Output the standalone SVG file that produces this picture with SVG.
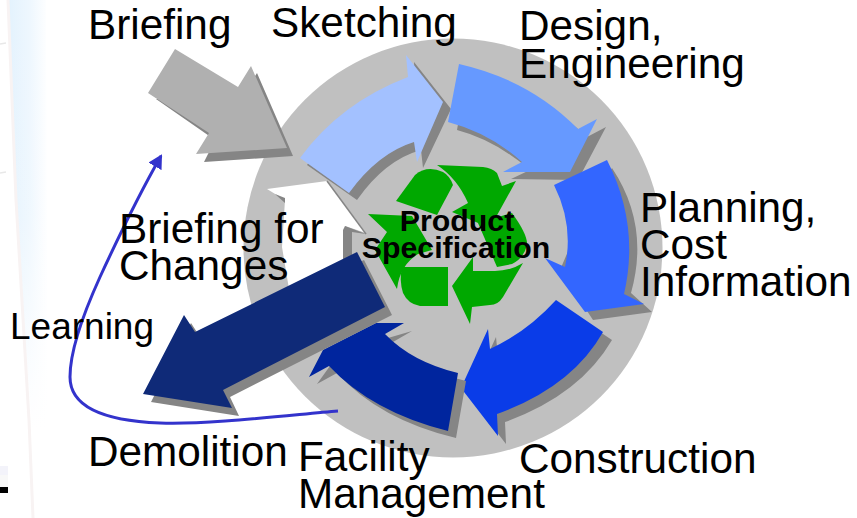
<svg xmlns="http://www.w3.org/2000/svg" width="857" height="518" viewBox="0 0 857 518">
<style>
.t{font-family:"Liberation Sans",Arial,sans-serif;font-size:42.3px;fill:#000}
.s{fill:#858585}
.g{fill:#00a800}
.b{font-family:"Liberation Sans",Arial,sans-serif;font-size:30.3px;font-weight:bold;fill:#000;text-anchor:middle}
</style>
<defs>
<linearGradient id="bg" x1="0" x2="1" y1="0" y2="0"><stop offset="0" stop-color="#e3f2fd"/><stop offset="0.55" stop-color="#eef7fe"/><stop offset="1" stop-color="#fff"/></linearGradient>
<linearGradient id="fade" x1="0" x2="0" y1="0" y2="1"><stop offset="0" stop-color="#fff" stop-opacity="0"/><stop offset="0.5" stop-color="#fff" stop-opacity="0.1"/><stop offset="1" stop-color="#fff" stop-opacity="1"/></linearGradient>
<marker id="m" markerUnits="userSpaceOnUse" markerWidth="15" markerHeight="16" refX="12" refY="7.5" orient="auto"><path d="M0 0L14 7.5L0 15Z" fill="#3333cc"/></marker>
</defs>
<rect width="857" height="518" fill="#fff"/>
<polygon points="8,0 46,0 48,430 32,430 15,200" fill="url(#bg)"/>
<polygon points="8,0 50,0 50,430 30,430 15,200" fill="url(#fade)"/>
<path d="M8 0L16 200L29 420L33 518" fill="none" stroke="#f8f3f3" stroke-width="3"/>
<path d="M0 44L6 43M0 173L6 172" stroke="#e8e8e8" stroke-width="1.5"/>
<rect x="0" y="466" width="8" height="9" fill="#f3f3fa"/>
<rect x="0" y="475" width="8" height="12" fill="#f8f8f8"/>
<path d="M0 490H8" stroke="#000" stroke-width="6"/>
<g id="disc"><circle cx="453" cy="248" r="209.500" fill="#c0c0c0"/>
<polygon points="267,189 327,181 366,233 345,226 343,262 290,295 282,247 285,200" fill="#fff"/>
<polygon class="s" points="275,194 285,198 285,203"/>
<polygon class="s" points="343,230 345,226 366,234 352,232 352,262 343,262"/>
<path d="M327 181L366 234" stroke="#858585" stroke-width="1.500"/>
</g>
<g id="connectors"><path d="M338 411C290 415 205 425 160 423C110 421 70 410 70 377C70 350 85 310 100 277C118 238 138 196 161 156" fill="none" stroke="#3333cc" stroke-width="3" marker-end="url(#m)"/></g>
<g id="recycle">
<path class="g" d="M396 201L415 175Q427 165 443 172Q450 176 453 185L437 215Z"/>
<path class="g" d="M437 165L483 167Q492 168 497 173L502 186L516 181L490 228L452 212L468 203Q457 178 437 165Z"/>
<path class="g" d="M478 223L512 213Q528 235 527 245Q524 258 512 264L497 267Z"/>
<path class="g" d="M523 263L503 297Q498 305 490 305L472 307L470 324L452 286L473 257V271H495Q510 271 523 263Z"/>
<path class="g" d="M402 267H448V306H420Q408 304 403 293Q399 280 402 267Z"/>
<path class="g" d="M368 214L412 216L432 250L418 254Q400 265 397 289L375 250L387 232Z"/>
</g>
<g id="briefing"><polygon class="s" points="156,99 215,140 204,162 293,156 257,73 244,94"/><polygon fill="#b0b0b0" points="175,49 148,93 209,133 196,154 287,148 251,66 238,87"/></g>
<g id="sketching"><path class="s" d="M307 165Q345 110 415 85L414 62L451 109L423 168L421 150Q385 160 357 200Z"/><path fill="#a3c1ff" d="M300 158Q340 103 408 77L406 55L443 102L417 162L414 142Q378 153 349 193Z"/></g>
<g id="design"><path class="s" d="M457 130Q495 140 530 170L511 179L578 180L606 127L587 137Q530 85 467 72Z"/><path fill="#6699ff" d="M459 64Q530 80 578 129L597 119L570 172H503L522 162Q490 133 448 122Z"/></g>
<g id="planning"><path class="s" d="M612 168Q650 225 631 293L652 312L593 320L560 270L590 200Z"/><path fill="#3366ff" d="M607 160Q640 225 624 294L644 304L585 312L545 258L565 267Q574 225 554 185Z"/></g>
<g id="construction"><path class="s" d="M564 308Q535 340 498 357L496 337L469 396L506 444L505 422Q580 395 612 340Z"/><path fill="#0a3ce8" d="M556 300Q527 332 490 349L488 329L461 388L498 436L497 414Q572 387 603 332Z"/></g>
<g id="facility"><path class="s" d="M466 381Q420 370 393 342L412 331L340 352L317 384L337 373Q380 420 456 438Z"/><path fill="#00259e" d="M458 373Q412 362 385 334L404 323H376L323 350L309 377L329 366Q372 412 448 431Z"/></g>
<g id="demolition"><polygon class="s" points="364,260 392,315 230,397 239,416 151,402 191,323 202,340"/><polygon fill="#0f2a78" points="357,252 385,307 223,390 232,408 143,394 184,315 195,332"/></g>
<g id="labels">
<text class="t" x="88" y="39">Briefing</text>
<text class="t" x="271" y="37">Sketching</text>
<text class="t" x="519" y="40">Design,</text>
<text class="t" x="519" y="78">Engineering</text>
<text class="t" x="640" y="222">Planning,</text>
<text class="t" x="640" y="259">Cost</text>
<text class="t" x="640" y="296">Information</text>
<text class="t" x="119" y="243">Briefing for</text>
<text class="t" x="119" y="280">Changes</text>
<text class="t" x="10" y="339" style="font-size:37px">Learning</text>
<text class="t" x="88" y="466">Demolition</text>
<text class="t" x="298" y="471">Facility</text>
<text class="t" x="298" y="508">Management</text>
<text class="t" x="519" y="473">Construction</text>
<text class="b" x="457" y="231">Product</text>
<text class="b" x="456" y="258">Specification</text>
</g>
</svg>
